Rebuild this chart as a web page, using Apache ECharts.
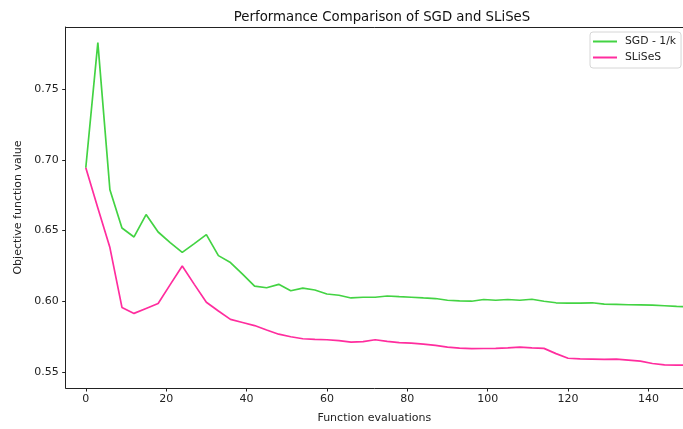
<!DOCTYPE html>
<html>
<head>
<meta charset="utf-8">
<script src="https://cdn.jsdelivr.net/npm/echarts@6/dist/echarts.min.js"></script>
<style>html,body{margin:0;padding:0;background:#fff;}#c{width:683px;height:429px;}</style>
</head>
<body>
<div id="c"></div>
<script>
const evals = [0,3,6,9,12,15,18,21,24,27,30,33,36,39,42,45,48,51,54,57,60,63,66,69,72,75,78,81,84,87,90,93,96,99,102,105,108,111,114,117,120,123,126,129,132,135,138,141,144,147,150];
const sgd = [0.6944,0.7828,0.6788,0.6518,0.6455,0.6613,0.6490,0.6415,0.6346,0.6408,0.6471,0.6323,0.6274,0.6192,0.6108,0.6096,0.6120,0.6075,0.6094,0.6080,0.6052,0.6043,0.6024,0.6029,0.6029,0.6038,0.6033,0.6029,0.6024,0.6020,0.6008,0.6003,0.6001,0.6013,0.6008,0.6013,0.6008,0.6015,0.6001,0.5990,0.5987,0.5987,0.5990,0.5980,0.5978,0.5976,0.5975,0.5973,0.5969,0.5964,0.5961];
const slises = [0.6944,0.6660,0.6380,0.5957,0.5915,0.5950,0.5985,0.6118,0.6250,0.6120,0.5994,0.5932,0.5873,0.5851,0.5829,0.5798,0.5768,0.5750,0.5736,0.5731,0.5729,0.5722,0.5712,0.5715,0.5729,0.5717,0.5708,0.5705,0.5698,0.5689,0.5677,0.5670,0.5666,0.5667,0.5668,0.5672,0.5677,0.5672,0.5668,0.5631,0.5598,0.5594,0.5592,0.5590,0.5592,0.5585,0.5578,0.5561,0.5552,0.5550,0.5549];
const xTicks = [0,20,40,60,80,100,120,140];
const yTicks = [0.55,0.60,0.65,0.70,0.75];
const seriesNames = ['SGD - 1/k','SLiSeS'];

const font = 'DejaVu Sans';
const axisColor = '#222';
const txt = '#222';
const chart = echarts.init(document.getElementById('c'), null, {renderer:'canvas'});
chart.setOption({
  animation:false,
  backgroundColor:'#fff',
  title:{
    text:'Performance Comparison of SGD and SLiSeS',
    left:377, top:6, textAlign:'center',
    textStyle:{fontFamily:font,fontSize:13.3,fontWeight:'normal',color:'#111'}
  },
  legend:{
    orient:'vertical', left:590, top:32,
    data:seriesNames, icon:'rect', itemWidth:24, itemHeight:2, itemGap:3,
    padding:[3,5,4,3],
    backgroundColor:'#fff', borderColor:'#d6d6d6', borderWidth:1, borderRadius:3,
    textStyle:{fontFamily:font,fontSize:10.8,color:txt,lineHeight:13,padding:[0,0,0,3]}
  },
  grid:{left:65.7, top:27, right:0, bottom:37, containLabel:false},
  xAxis:[{
    type:'value', min:-5, max:148.6,
    name:'Function evaluations', nameLocation:'middle', nameGap:25,
    nameTextStyle:{fontFamily:font,fontSize:11,color:txt},
    axisLine:{show:true,onZero:false,lineStyle:{color:axisColor,width:1}},
    axisTick:{show:true,length:3.5,lineStyle:{color:axisColor},customValues:xTicks},
    axisLabel:{fontFamily:font,fontSize:11,color:txt,margin:6,customValues:xTicks},
    splitLine:{show:false}
  },{
    type:'value', min:-5, max:148.6, position:'top',
    axisLine:{show:true,onZero:false,lineStyle:{color:axisColor,width:1}},
    axisTick:{show:false}, axisLabel:{show:false}, splitLine:{show:false}
  }],
  yAxis:{
    type:'value', min:0.5388, max:0.7938,
    name:'Objective function value', nameLocation:'middle', nameGap:39,
    nameTextStyle:{fontFamily:font,fontSize:11,color:txt},
    axisLine:{show:true,onZero:false,lineStyle:{color:axisColor,width:1}},
    axisTick:{show:true,length:3.5,lineStyle:{color:axisColor},customValues:yTicks},
    axisLabel:{fontFamily:font,fontSize:11,color:txt,margin:7,customValues:yTicks,formatter:v=>v.toFixed(2)},
    splitLine:{show:false}
  },
  series:[{
    name:seriesNames[0], type:'line', showSymbol:false, symbol:'none',
    data:evals.map((x,i)=>[x,sgd[i]]),
    lineStyle:{color:'#43d343',width:1.7}, itemStyle:{color:'#43d343'}
  },{
    name:seriesNames[1], type:'line', showSymbol:false, symbol:'none',
    data:evals.map((x,i)=>[x,slises[i]]),
    lineStyle:{color:'#ff2d9e',width:1.7}, itemStyle:{color:'#ff2d9e'}
  }]
});
</script>
</body>
</html>
